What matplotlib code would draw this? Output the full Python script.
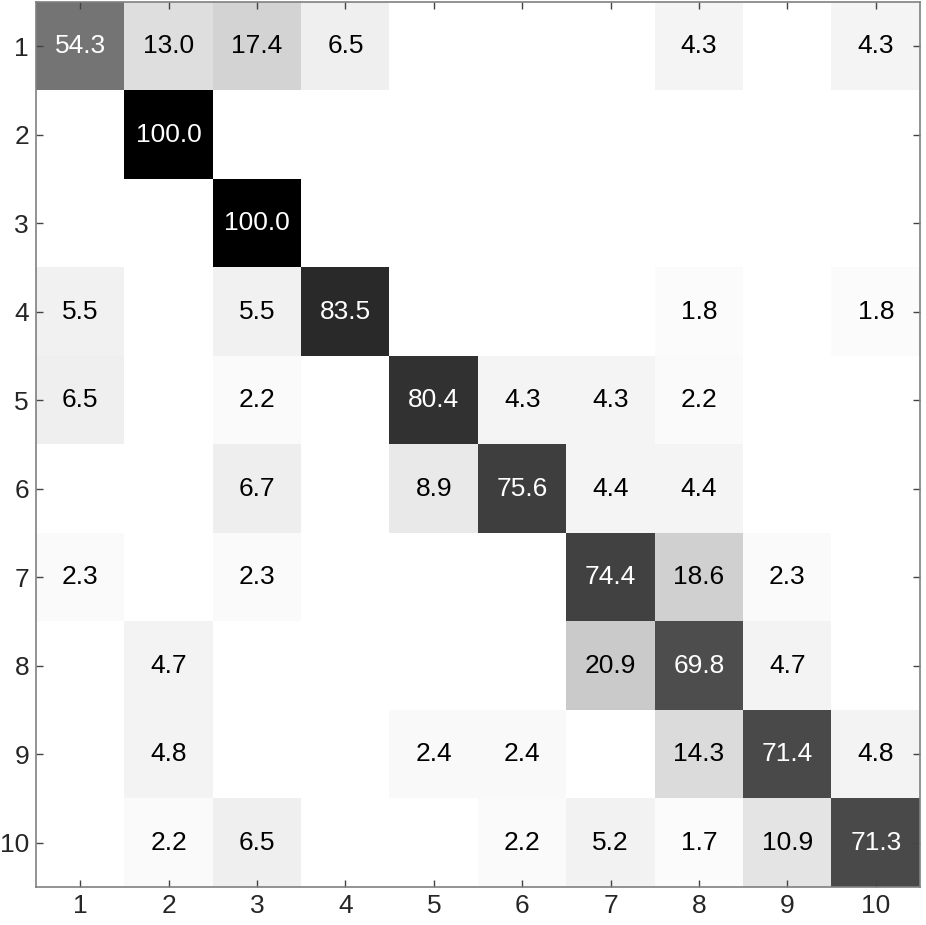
import numpy as np
import matplotlib
matplotlib.use("Agg")
import matplotlib.pyplot as plt

plt.rcParams['font.family'] = ['Liberation Sans', 'DejaVu Sans']

labels = [str(i) for i in range(1, 11)]
row1 = [54.3, 13.0, 17.4, 6.5, 0, 0, 0, 4.3, 0, 4.3]
row2 = [0, 100.0, 0, 0, 0, 0, 0, 0, 0, 0]
row3 = [0, 0, 100.0, 0, 0, 0, 0, 0, 0, 0]
row4 = [5.5, 0, 5.5, 83.5, 0, 0, 0, 1.8, 0, 1.8]
row5 = [6.5, 0, 2.2, 0, 80.4, 4.3, 4.3, 2.2, 0, 0]
row6 = [0, 0, 6.7, 0, 8.9, 75.6, 4.4, 4.4, 0, 0]
row7 = [2.3, 0, 2.3, 0, 0, 0, 74.4, 18.6, 2.3, 0]
row8 = [0, 4.7, 0, 0, 0, 0, 20.9, 69.8, 4.7, 0]
row9 = [0, 4.8, 0, 0, 2.4, 2.4, 0, 14.3, 71.4, 4.8]
row10 = [0, 2.2, 6.5, 0, 0, 2.2, 5.2, 1.7, 10.9, 71.3]

M = np.array([row1, row2, row3, row4, row5, row6, row7, row8, row9, row10])

fig = plt.figure(figsize=(9.26, 9.25), dpi=100)
ax = fig.add_axes([36/926, 1 - 887/925, (920-36)/926, (887-2)/925])
ax.imshow(M, cmap='gray_r', vmin=0, vmax=100, aspect='auto', interpolation='nearest')

n = M.shape[0]
for i in range(n):
    for j in range(n):
        v = M[i, j]
        if v > 0:
            ax.text(j, i, f"{v:.1f}", ha='center', va='center', fontsize=19,
                    color='white' if v > 40 else 'black')

ax.set_xticks(range(n))
ax.set_yticks(range(n))
ax.set_xticklabels(labels)
ax.set_yticklabels(labels)
ax.tick_params(direction='in', length=5, width=1, color='#444444', labelsize=19,
               top=True, right=True, labelcolor='#262626', pad=5)
for s in ax.spines.values():
    s.set_color('#808080')
    s.set_linewidth(1.2)

fig.savefig('out.png', dpi=100)
